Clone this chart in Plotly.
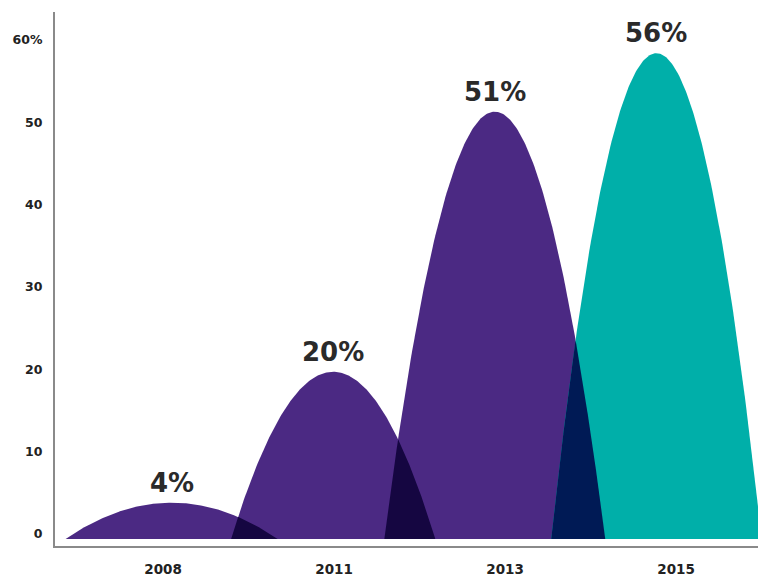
import numpy as np
import plotly.graph_objects as go

# ---- data ----
years = ["2008", "2011", "2013", "2015"]
value_labels = ["4%", "20%", "51%", "56%"]
peak_values = [3.8, 19.7, 51.3, 58.4]          # heights as drawn
shape_centers = [0.05, 0.995, 1.94, 2.885]      # x-position of each arch (tick units)
shape_halfwidths = [0.62, 0.597, 0.646, 0.615]
shape_colors = ["#4b2983", "#4b2983", "#4b2983", "#00afa9"]
overlap_colors = ["#150641", "#150641", "#001a55"]
y_tickvals = [0, 10, 20, 30, 40, 50, 60]
y_ticktext = ["0", "10", "20", "30", "40", "50", "60%"]

BASE = -0.6

def arch(i, x):
    u = (x - shape_centers[i]) / shape_halfwidths[i]
    return BASE + (peak_values[i] - BASE) * (1 - u ** 2)

fig = go.Figure()

# main arches
for i in range(len(years)):
    xs = np.linspace(shape_centers[i] - shape_halfwidths[i], shape_centers[i] + shape_halfwidths[i], 200)
    ys = arch(i, xs)
    fig.add_trace(go.Scatter(
        x=np.concatenate([xs, [xs[-1], xs[0]]]),
        y=np.concatenate([ys, [BASE, BASE]]),
        fill="toself", fillcolor=shape_colors[i], mode="lines",
        line=dict(width=0), hoverinfo="skip", showlegend=False))

# overlaps between neighbouring arches
for i in range(len(years) - 1):
    lo = max(shape_centers[i] - shape_halfwidths[i], shape_centers[i + 1] - shape_halfwidths[i + 1])
    hi = min(shape_centers[i] + shape_halfwidths[i], shape_centers[i + 1] + shape_halfwidths[i + 1])
    if hi <= lo:
        continue
    xs = np.linspace(lo, hi, 300)
    ys = np.minimum(arch(i, xs), arch(i + 1, xs))
    ys = np.maximum(ys, BASE)
    fig.add_trace(go.Scatter(
        x=np.concatenate([xs, [xs[-1], xs[0]]]),
        y=np.concatenate([ys, [BASE, BASE]]),
        fill="toself", fillcolor=overlap_colors[i], mode="lines",
        line=dict(width=0), hoverinfo="skip", showlegend=False))

# value labels
for i in range(len(years)):
    fig.add_annotation(x=shape_centers[i], y=peak_values[i], text=value_labels[i],
                       showarrow=False, yshift=20, yanchor="middle",
                       font=dict(family="DejaVu Sans", size=26, color="#2a2a2a", weight="bold"))

# page body has an 8px margin, so the figure is sized to fit the 766x579 window
fig.update_layout(
    width=758, height=571,
    margin=dict(l=47, r=0, t=4, b=33),
    plot_bgcolor="white", paper_bgcolor="white",
    showlegend=False,
    xaxis=dict(range=[-0.632, 3.526], tickvals=list(range(len(years))), ticktext=years,
               automargin=False,
               showgrid=False, zeroline=False, showline=True, linecolor="#8a8a8a", linewidth=2,
               ticks="outside", ticklen=10, tickcolor="rgba(0,0,0,0)",
               tickfont=dict(family="DejaVu Sans", size=13.5, color="#222222", weight="bold")),
    yaxis=dict(range=[-1.46, 63.4], tickvals=y_tickvals, ticktext=y_ticktext,
               automargin=False,
               showgrid=False, zeroline=False, showline=True, linecolor="#8a8a8a", linewidth=2,
               ticks="outside", ticklen=8, tickcolor="rgba(0,0,0,0)",
               tickfont=dict(family="DejaVu Sans", size=12.5, color="#222222", weight="bold")),
)

fig.write_html("out.html")
